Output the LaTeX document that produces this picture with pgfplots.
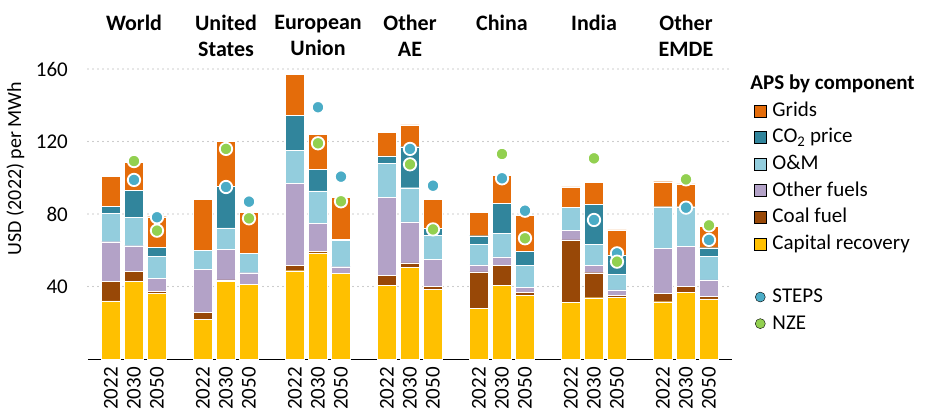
\documentclass[border=0pt]{standalone}
\usepackage{fontspec}
\setmainfont{Carlito}
\usepackage{pgfplots}
\pgfplotsset{compat=1.18}
\usepackage{pgfplotstable}

\definecolor{cGrids}{RGB}{228,108,10}
\definecolor{cCO}{RGB}{49,133,156}
\definecolor{cOM}{RGB}{147,205,221}
\definecolor{cOther}{RGB}{179,162,199}
\definecolor{cCoal}{RGB}{152,72,7}
\definecolor{cCap}{RGB}{255,192,0}
\definecolor{cSteps}{RGB}{75,172,198}
\definecolor{cNze}{RGB}{146,208,80}

\newcommand\fs{\fontsize{21}{25}\selectfont}

% APS components per bar, plus STEPS / NZE totals (USD per MWh)
\pgfplotstableread{
x  cap  coal other om   co2  grids steps nze
1  32.0 11.0 21.7  15.7 4.0  16.2  nan   nan
2  42.7 5.5  14.3  15.7 14.7 15.6  98.8  109.2
3  36.4 1.1  7.0   12.3 4.8  16.9  78.2  70.8
5  21.9 3.8  23.6  10.8 0.0  27.8  nan   nan
6  43.0 0.6  16.9  11.8 22.8 24.8  94.9  115.9
7  41.2 0.0  6.4   10.5 0.0  22.8  86.8  77.6
9  48.7 2.8  45.4  18.2 19.3 22.8  nan   nan
10 58.5 0.7  15.8  17.7 11.9 19.4  138.9 119.0
11 47.3 0.0  3.6   14.4 0.7  23.2  100.6 87.0
13 40.8 5.5  42.7  19.0 4.0  13.1  nan   nan
14 50.4 2.6  22.6  18.9 22.6 12.0  115.9 107.4
15 38.4 1.5  15.1  13.4 3.7  16.0  95.6  71.5
17 28.0 20.0 3.9   11.4 4.7  12.9  nan   nan
18 40.8 10.7 4.8   13.2 16.2 15.8  99.7  113.1
19 35.0 1.6  2.8   12.1 7.9  19.9  81.8  66.6
21 31.3 34.4 5.1   12.9 0.0  11.2  nan   nan
22 33.8 13.8 3.9   11.8 22.0 12.2  76.7  110.7
23 34.0 1.3  2.8   8.6  10.7 13.8  58.3  53.7
25 31.6 4.6  24.9  22.9 0.0  13.8  nan   nan
26 36.6 3.3  22.4  21.7 0.0  12.6  83.5  99.1
27 33.1 1.3  9.2   13.2 4.6  11.8  65.7  73.7
}\costs

\pgfplotsset{
  base/.style={scale only axis, width=644pt, height=290pt,
    xmin=0, xmax=28, ymin=0, ymax=160, clip=false},
  sq legend/.style={legend image code/.code={\fill[##1] (0pt,-6pt) rectangle (12pt,6pt);}},
  mk legend/.style={legend image code/.code={\draw[##1] plot coordinates {(6pt,0pt)};}},
}

\begin{document}
\begin{tikzpicture}
\begin{axis}[base, name=main,
    ybar stacked, bar width=18.7pt,
    axis x line*=bottom, axis y line*=left,
    y axis line style={draw=none},
    x axis line style={black, line width=0.9pt},
    xtick={1,2,3,5,6,7,9,10,11,13,14,15,17,18,19,21,22,23,25,26,27},
    xticklabels={2022,2030,2050,2022,2030,2050,2022,2030,2050,2022,2030,2050,
                 2022,2030,2050,2022,2030,2050,2022,2030,2050},
    xtick style={draw=none},
    extra x ticks={0,4,...,28},
    extra x tick labels={,,,,,,,},
    extra x tick style={major tick length=7pt, tick align=outside,
        tick style={draw=black, line width=0.8pt}},
    ytick={40,80,120,160}, ytick style={draw=none},
    ymajorgrids,
    grid style={gray!80, line width=1.2pt, dash pattern=on 0pt off 5pt, line cap=round},
    /pgf/number format/assume math mode=true,
    xticklabel style={font=\fs, rotate=90, anchor=east, inner xsep=8pt, inner ysep=0pt},
    yticklabel style={font=\fs, inner sep=0pt, xshift=-20pt},
    ylabel={USD (2022) per MWh},
    ylabel style={font=\fontsize{20}{24}\selectfont,
        at={(axis description cs:-0.1126,0.657)}, anchor=center},
]
\addplot[fill=cCap, draw=white, line width=0.4pt] table[x=x, y=cap] {\costs};
\addplot[fill=cCoal, draw=white, line width=0.4pt] table[x=x, y=coal] {\costs};
\addplot[fill=cOther, draw=white, line width=0.4pt] table[x=x, y=other] {\costs};
\addplot[fill=cOM, draw=white, line width=0.4pt] table[x=x, y=om] {\costs};
\addplot[fill=cCO, draw=white, line width=0.4pt] table[x=x, y=co2] {\costs};
\addplot[fill=cGrids, draw=white, line width=0.4pt] table[x=x, y=grids] {\costs};
\end{axis}

\begin{axis}[base, hide axis,
    legend style={at={(axis description cs:1.034,0.994)}, anchor=north west,
        draw=none, fill=none, inner sep=0pt, row sep=0pt,
        font=\fs, legend cell align=left,
        nodes={inner xsep=0pt, inner ysep=1.8pt, text height=17pt, text depth=6pt},
        /tikz/every odd column/.append style={column sep=6pt}},
]
\addplot[only marks, mark=*, mark size=6.2pt, forget plot,
    mark options={fill=cSteps, draw=white, line width=1.8pt}]
    table[x=x, y=steps] {\costs};
\addplot[only marks, mark=*, mark size=6.2pt, forget plot,
    mark options={fill=cNze, draw=white, line width=1.8pt}]
    table[x=x, y=nze] {\costs};

\addlegendimage{empty legend}
\addlegendentry{\hspace*{-22pt}\textbf{APS by component}}
\addlegendimage{sq legend, fill=cGrids}
\addlegendentry{Grids}
\addlegendimage{sq legend, fill=cCO}
\addlegendentry{CO\textsubscript{2} price}
\addlegendimage{sq legend, fill=cOM}
\addlegendentry{O\&M}
\addlegendimage{sq legend, fill=cOther}
\addlegendentry{Other fuels}
\addlegendimage{sq legend, fill=cCoal}
\addlegendentry{Coal fuel}
\addlegendimage{sq legend, fill=cCap}
\addlegendentry{Capital recovery}
\addlegendimage{empty legend}
\addlegendentry{}
\addlegendimage{mk legend, only marks, mark=*, mark size=5pt, mark options={fill=cSteps, draw=none}}
\addlegendentry{STEPS}
\addlegendimage{mk legend, only marks, mark=*, mark size=5pt, mark options={fill=cNze, draw=none}}
\addlegendentry{NZE}

\begin{scope}[every node/.style={anchor=north, align=center, inner sep=0pt,
    font=\fontsize{22}{26.6}\selectfont\bfseries}]
\node at (axis cs:2,190) {World};
\node at (axis cs:6,190) {United\\States};
\node at (axis cs:10,190) {European\\Union};
\node at (axis cs:14,190) {Other\\AE};
\node at (axis cs:18,190) {China};
\node at (axis cs:22,190) {India};
\node at (axis cs:26,190) {Other\\EMDE};
\end{scope}
\end{axis}

\pgfresetboundingbox
\path[use as bounding box] ([shift={(-88pt,-60pt)}]main.south west)
    rectangle ([shift={(839pt,359pt)}]main.south west);
\end{tikzpicture}
\end{document}
